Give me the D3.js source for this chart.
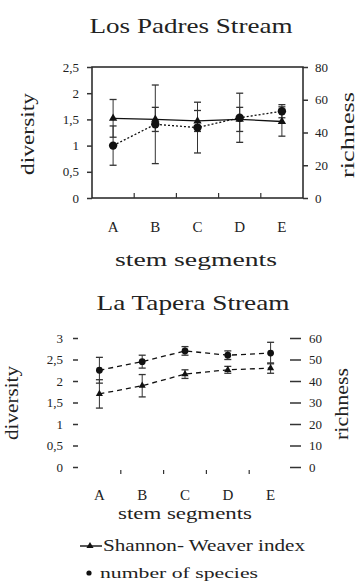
<!DOCTYPE html>
<html>
<head>
<meta charset="utf-8">
<script src="https://cdn.jsdelivr.net/npm/d3@7"></script>
<style>
  body { margin: 0; background: #fff; }
  svg text { font-family: "Liberation Serif", "Times New Roman", Times, serif; fill: #222; }
</style>
</head>
<body>
<svg id="chart" width="358" height="581"></svg>
<script>
// stem segments
const segments = ['A', 'B', 'C', 'D', 'E'];

// Los Padres Stream
const padresDiversity = [1.52, 1.5, 1.47, 1.5, 1.46];
const padresDiversityErr = [0.36, 0.23, 0.2, 0.23, 0.28];
const padresRichness = [32, 45, 43, 49, 53];
const padresRichnessErr = [12, 24, 15.5, 15, 4];
const padresDivTicks = [0, 0.5, 1, 1.5, 2, 2.5];
const padresRichTicks = [0, 20, 40, 60, 80];

// La Tapera Stream
const taperaDiversity = [1.7, 1.89, 2.16, 2.26, 2.3];
const taperaDiversityErr = [0.33, 0.26, 0.1, 0.08, 0.12];
const taperaRichness = [45, 49, 54, 52, 53];
const taperaRichnessErr = [6, 3, 2, 2, 5];
const taperaDivTicks = [0, 0.5, 1, 1.5, 2, 2.5, 3];
const taperaRichTicks = [0, 10, 20, 30, 40, 50, 60];

const svg = d3.select('#chart');
const fmt = d => String(d).replace('.', ',');

function label(txt, x, y, size, len, rotate) {
    const t = svg.append('text')
        .attr('text-anchor', 'middle')
        .attr('font-size', size)
        .attr('textLength', len)
        .attr('lengthAdjust', 'spacingAndGlyphs')
        .text(txt);
    if (rotate) t.attr('transform', `translate(${x},${y}) rotate(-90)`);
    else t.attr('x', x).attr('y', y);
}

function drawPanel(cfg) {
    const x = d3.scaleBand().domain(segments).range([cfg.left, cfg.right]);
    const yL = d3.scaleLinear().domain([0, cfg.divMax]).range([cfg.bottom, cfg.top]);
    const yR = d3.scaleLinear().domain([0, cfg.richMax]).range([cfg.bottom, cfg.top]);
    const cx = d => x(d) + x.bandwidth() / 2;
    const g = svg.append('g');

    if (cfg.box) {
        g.append('rect')
            .attr('x', cfg.left).attr('y', cfg.top)
            .attr('width', cfg.right - cfg.left).attr('height', cfg.bottom - cfg.top)
            .attr('fill', 'none').attr('stroke', '#222').attr('stroke-width', 1.5);
    }

    // left axis
    const ax = g.append('g').attr('transform', `translate(${cfg.left},0)`)
        .call(d3.axisLeft(yL).tickValues(cfg.divTicks).tickFormat(fmt)
            .tickSize(cfg.tickL).tickPadding(cfg.padL));
    ax.select('.domain').remove();
    ax.selectAll('line').attr('stroke', '#333').attr('stroke-width', 1.5);
    ax.selectAll('text').attr('font-size', 13).attr('fill', '#222');

    // right axis
    const ar = g.append('g').attr('transform', `translate(${cfg.right + cfg.rShift},0)`)
        .call(d3.axisRight(yR).tickValues(cfg.richTicks)
            .tickSize(cfg.tickR).tickPadding(cfg.padR));
    ar.select('.domain').remove();
    ar.selectAll('line').attr('stroke', '#333').attr('stroke-width', 1.5);
    ar.selectAll('text').attr('font-size', 13).attr('fill', '#222');

    // x ticks at segment boundaries
    g.selectAll('.xt').data(segments.slice(1)).join('line')
        .attr('x1', d => x(d)).attr('x2', d => x(d))
        .attr('y1', cfg.bottom + cfg.xTick[0]).attr('y2', cfg.bottom + cfg.xTick[1])
        .attr('stroke', '#333').attr('stroke-width', 1.2);

    // category labels
    g.selectAll('.cat').data(segments).join('text')
        .attr('x', cx).attr('y', cfg.catY)
        .attr('text-anchor', 'middle').attr('font-size', 15)
        .text(d => d);

    const lineDiv = d3.line().x((d, i) => cx(segments[i])).y(d => yL(d));
    const lineRich = d3.line().x((d, i) => cx(segments[i])).y(d => yR(d));

    g.append('path').datum(cfg.div).attr('d', lineDiv)
        .attr('fill', 'none').attr('stroke', '#111').attr('stroke-width', 1.3)
        .attr('stroke-dasharray', cfg.divDash);
    g.append('path').datum(cfg.rich).attr('d', lineRich)
        .attr('fill', 'none').attr('stroke', '#111').attr('stroke-width', 1.3)
        .attr('stroke-dasharray', cfg.richDash);

    // error bars
    function errBars(vals, errs, y) {
        vals.forEach((v, i) => {
            const xc = cx(segments[i]);
            const y0 = y(v - errs[i]), y1 = y(v + errs[i]);
            g.append('line').attr('x1', xc).attr('x2', xc).attr('y1', y0).attr('y2', y1)
                .attr('stroke', '#333').attr('stroke-width', 1);
            [y0, y1].forEach(yy => g.append('line')
                .attr('x1', xc - 3.5).attr('x2', xc + 3.5).attr('y1', yy).attr('y2', yy)
                .attr('stroke', '#333').attr('stroke-width', 1.3));
        });
    }
    errBars(cfg.div, cfg.divErr, yL);
    errBars(cfg.rich, cfg.richErr, yR);

    // markers
    const tri = d3.symbol().type(d3.symbolTriangle).size(cfg.triSize);
    g.selectAll('.tri').data(cfg.div).join('path')
        .attr('d', tri)
        .attr('transform', (d, i) => `translate(${cx(segments[i])},${yL(d)})`)
        .attr('fill', '#111');
    g.selectAll('.dot').data(cfg.rich).join('circle')
        .attr('cx', (d, i) => cx(segments[i])).attr('cy', d => yR(d))
        .attr('r', cfg.dotR).attr('fill', '#111');
}

// Los Padres Stream
label('Los Padres Stream', 191, 33, 22, 203);
drawPanel({
    left: 92, right: 303, top: 67, bottom: 198, box: true,
    divMax: 2.5, richMax: 80,
    divTicks: padresDivTicks, richTicks: padresRichTicks,
    tickL: 5, padL: 8, tickR: 5, padR: 7, rShift: 0,
    xTick: [-5, 0], catY: 232,
    div: padresDiversity, divErr: padresDiversityErr,
    rich: padresRichness, richErr: padresRichnessErr,
    divDash: null, richDash: '2,2', triSize: 30, dotR: 4.2
});
label('stem segments', 196, 266, 19, 162);
label('diversity', 34, 134, 19, 82, true);
label('richness', 354, 135, 19, 86, true);

// La Tapera Stream
label('La Tapera Stream', 193, 310, 22, 193);
drawPanel({
    left: 78, right: 292, top: 338, bottom: 467, box: false,
    divMax: 3, richMax: 60,
    divTicks: taperaDivTicks, richTicks: taperaRichTicks,
    tickL: 5, padL: 10, tickR: 11, padR: 8, rShift: -2,
    xTick: [3, 7], catY: 500,
    div: taperaDiversity, divErr: taperaDiversityErr,
    rich: taperaRichness, richErr: taperaRichnessErr,
    divDash: '5,4', richDash: '5,4', triSize: 22, dotR: 3.4
});
label('stem segments', 185, 519, 17, 134);
label('diversity', 18, 403, 18, 74, true);
label('richness', 348, 404, 18, 72, true);

// legend
const leg = svg.append('g');
leg.append('line').attr('x1', 80).attr('x2', 102).attr('y1', 546).attr('y2', 546)
    .attr('stroke', '#111').attr('stroke-width', 1.4);
leg.append('path').attr('d', d3.symbol().type(d3.symbolTriangle).size(22))
    .attr('transform', 'translate(90,546)').attr('fill', '#111');
leg.append('text').attr('x', 103).attr('y', 551).attr('font-size', 16)
    .attr('textLength', 202).attr('lengthAdjust', 'spacingAndGlyphs')
    .text('Shannon- Weaver index');
leg.append('circle').attr('cx', 89).attr('cy', 573).attr('r', 2.6).attr('fill', '#111');
leg.append('text').attr('x', 100).attr('y', 578).attr('font-size', 15)
    .attr('textLength', 158).attr('lengthAdjust', 'spacingAndGlyphs')
    .text('number of species');
</script>
</body>
</html>
